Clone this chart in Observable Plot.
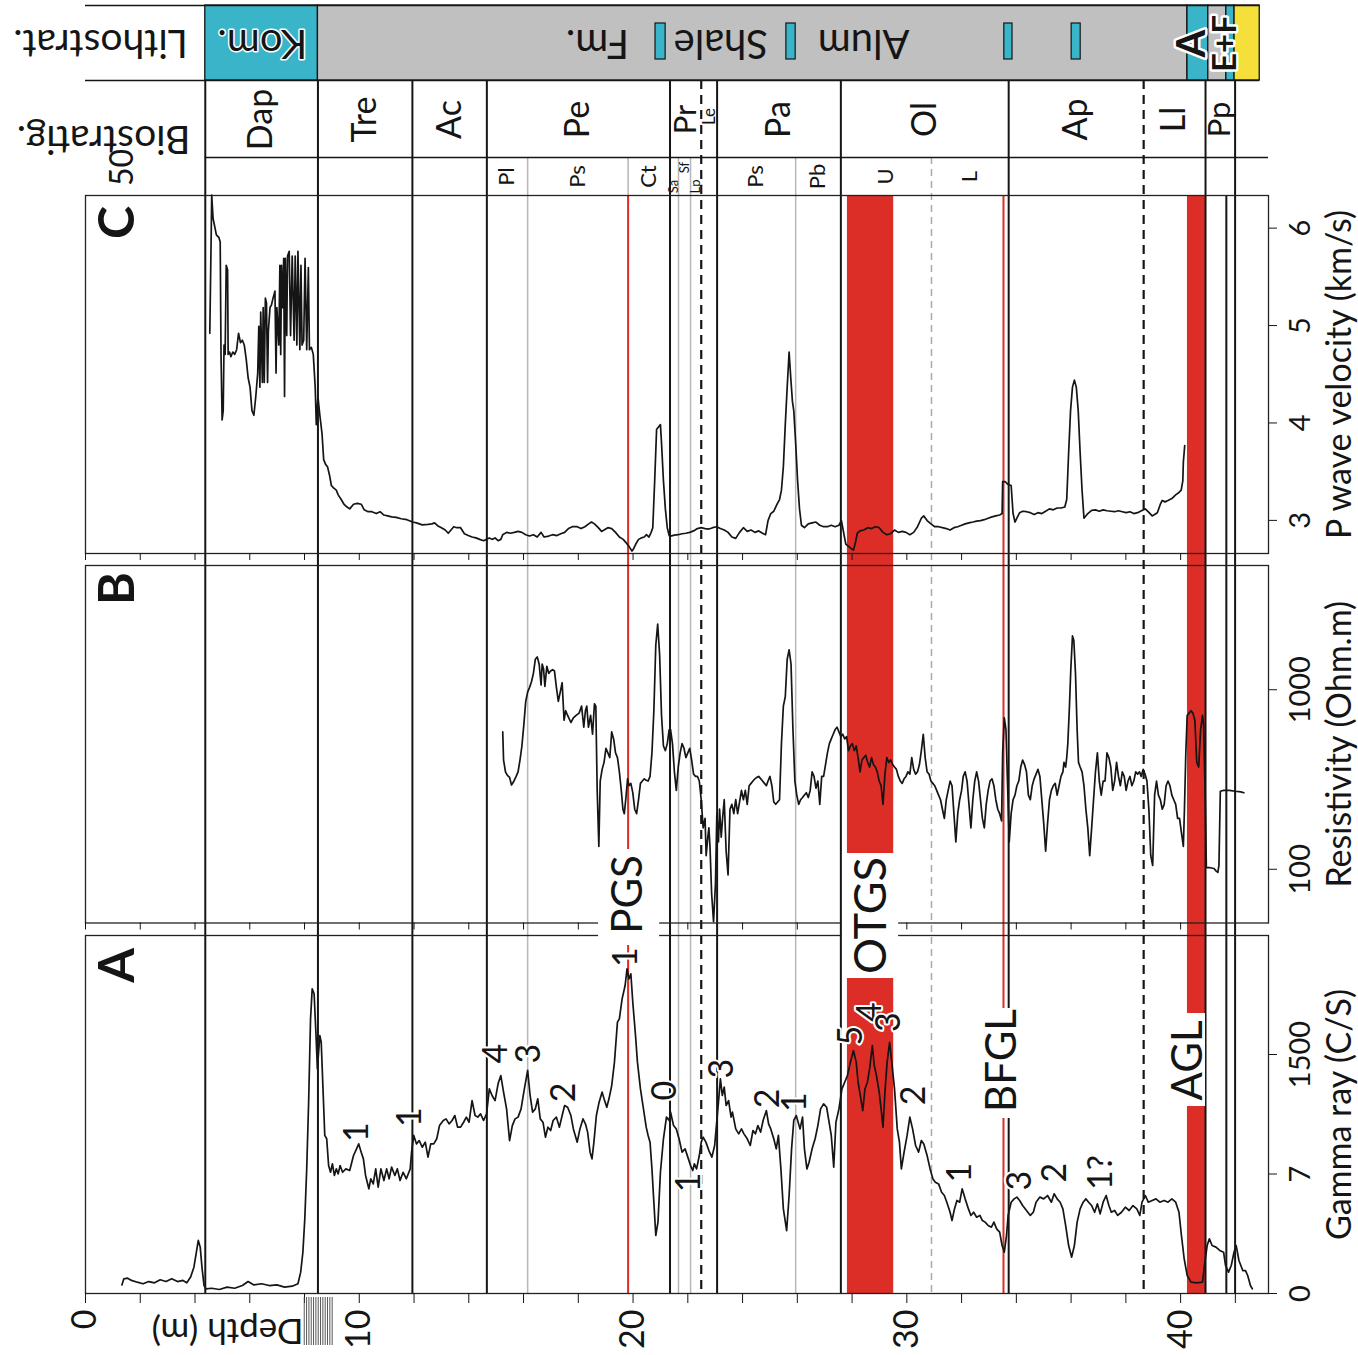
<!DOCTYPE html>
<html><head><meta charset="utf-8">
<script src="https://cdn.jsdelivr.net/npm/d3@7"></script>
<script src="https://cdn.jsdelivr.net/npm/@observablehq/plot@0.6"></script>
<style>
body{margin:0;background:#fff}
#wrap{position:relative;width:1358px;height:1355px;overflow:hidden;background:#fff}
#wrap svg{position:absolute;left:0;top:0}
</style></head><body><div id="wrap"></div>
<script>
// ---------------- DATA ----------------
// Gamma ray (C/S) vs depth (m)
const gammaLog = [[1.33,54],[1.40,92],[1.54,96],[1.68,82],[1.89,71],[2.10,61],[2.31,75],[2.52,67],[2.73,86],[2.94,75],[3.15,92],[3.36,75],[3.56,82],[3.70,67],[3.84,103],[3.96,165],[4.05,259],[4.12,333],[4.19,291],[4.26,155],[4.33,50],[4.40,29],[4.61,33],[4.89,25],[5.17,40],[5.45,33],[5.73,50],[5.94,75],[6.15,54],[6.43,61],[6.71,50],[6.99,54],[7.27,40],[7.55,46],[7.76,61],[7.86,134],[7.94,259],[8.01,469],[8.08,782],[8.15,1201],[8.22,1724],[8.28,1912],[8.35,1881],[8.42,1619],[8.47,1410],[8.56,1619],[8.61,1577],[8.67,1305],[8.74,992],[8.81,971],[8.88,803],[8.95,761],[9.02,814],[9.09,741],[9.16,782],[9.23,751],[9.30,803],[9.39,761],[9.51,782],[9.65,772],[9.79,866],[9.90,908],[9.98,939],[10.07,887],[10.15,845],[10.23,741],[10.35,657],[10.42,720],[10.51,688],[10.60,782],[10.69,667],[10.79,782],[10.90,709],[11.00,782],[11.09,720],[11.18,793],[11.30,741],[11.39,782],[11.49,709],[11.60,761],[11.72,720],[11.86,782],[11.91,887],[11.99,992],[12.09,939],[12.19,960],[12.30,918],[12.41,950],[12.51,856],[12.61,939],[12.72,939],[12.83,971],[12.93,1054],[13.07,1086],[13.17,1096],[13.28,1065],[13.39,1086],[13.49,1117],[13.59,1044],[13.70,1044],[13.81,1075],[13.91,1107],[14.01,1075],[14.12,1211],[14.23,1117],[14.33,1107],[14.43,1128],[14.54,1086],[14.65,1128],[14.75,1284],[14.85,1243],[14.96,1211],[15.07,1316],[15.17,1368],[15.27,1264],[15.38,1159],[15.49,960],[15.59,1054],[15.69,1096],[15.80,1107],[15.91,1159],[16.01,1264],[16.15,1400],[16.24,1243],[16.33,1138],[16.43,1159],[16.52,1222],[16.61,1096],[16.71,1075],[16.80,981],[16.89,1044],[16.99,1023],[17.08,1086],[17.20,1107],[17.31,1044],[17.41,1117],[17.50,1180],[17.61,1169],[17.73,1117],[17.82,1033],[17.96,950],[18.06,1033],[18.17,1096],[18.26,1065],[18.34,1013],[18.43,887],[18.50,845],[18.57,950],[18.66,1117],[18.76,1201],[18.87,1264],[18.94,1222],[19.04,1169],[19.12,1222],[19.22,1305],[19.32,1452],[19.43,1703],[19.50,1724],[19.60,1849],[19.71,1933],[19.78,2038],[19.85,1975],[19.92,2006],[19.99,1828],[20.09,1619],[20.16,1452],[20.27,1284],[20.38,1159],[20.48,1044],[20.55,992],[20.62,950],[20.69,782],[20.76,573],[20.83,364],[20.91,448],[21.00,761],[21.11,971],[21.22,1107],[21.32,1086],
[21.37,1138],[21.48,1054],[21.58,1033],[21.68,971],[21.79,887],[21.90,908],[22.00,856],[22.10,803],[22.18,772],[22.24,814],[22.32,782],[22.42,866],[22.49,950],[22.56,981],[22.66,950],[22.77,897],[22.88,856],[22.98,929],[23.05,1065],[23.12,1201],[23.19,1347],[23.26,1243],[23.33,1295],[23.40,1180],[23.49,1211],[23.58,1107],[23.63,1138],[23.75,1033],[23.86,1002],[23.96,1033],[24.05,1002],[24.17,971],[24.28,929],[24.38,1023],[24.47,1002],[24.56,1054],[24.66,1013],[24.75,1086],[24.87,1148],[24.95,1065],[25.03,1033],[25.14,971],[25.23,908],[25.31,992],[25.40,782],[25.49,531],[25.61,395],[25.70,615],[25.79,908],[25.87,1086],[25.96,1117],[26.03,1075],[26.10,1033],[26.19,1107],[26.26,908],[26.35,782],[26.43,824],[26.54,908],[26.65,971],[26.75,1054],[26.85,1159],[26.96,1190],[27.07,1169],[27.16,1075],[27.24,992],[27.33,793],[27.41,1075],[27.52,1159],[27.63,1284],[27.73,1326],[27.83,1368],[27.94,1452],[28.05,1525],[28.15,1452],[28.22,1326],[28.30,1243],[28.39,1148],[28.47,1284],[28.56,1326],[28.64,1410],[28.74,1556],[28.81,1431],[28.89,1368],[28.99,1264],[29.06,1159],[29.13,1044],[29.20,1264],[29.28,1452],[29.37,1577],[29.45,1452],[29.55,1284],[29.65,1033],[29.73,950],[29.80,782],[29.90,887],[30.01,992],[30.11,1107],[30.21,1033],[30.32,929],[30.43,887],[30.53,960],[30.62,939],[30.74,866],[30.85,782],[30.95,720],[31.04,699],[31.16,688],[31.27,636],[31.37,615],[31.46,573],[31.58,510],[31.65,458],[31.74,531],[31.83,584],[31.93,573],[32.02,657],[32.13,594],[32.25,531],[32.34,490],[32.44,510],[32.55,479],[32.67,490],[32.76,458],[32.86,448],[32.97,427],[33.09,416],[33.18,448],[33.28,406],[33.39,385],[33.48,301],[33.56,259],[33.64,364],[33.70,490],[33.81,573],[33.92,594],[34.02,605],[34.12,584],[34.23,552],[34.37,521],[34.51,490],[34.62,510],[34.72,573],[34.86,605],[35.00,594],[35.14,615],[35.28,573],[35.38,626],[35.49,594],[35.60,573],[35.70,531],[35.80,427],[35.91,301],[36.02,228],[36.12,301],[36.22,448],[36.33,531],[36.44,573],[36.54,594],[36.64,573],[36.75,552],[36.86,510],[36.96,563],[37.06,500],[37.17,573],[37.28,615],[37.38,552],[37.47,510],[37.59,521],[37.70,490],[37.84,510],[37.98,542],[38.12,521],[38.26,552],[38.40,531],[38.51,490],[38.59,573],[38.71,615],[38.82,573],[38.96,584],[39.10,594],[39.24,573],[39.40,584],[39.54,573],[39.68,594],[39.82,573],[39.94,510],[40.03,364],[40.13,218],[40.24,113],[40.38,71],[40.59,67],[40.80,71],[40.87,176],[40.97,301],[41.05,343],[41.15,301],[41.29,291],[41.43,270],[41.57,259],[41.64,176],[41.75,134],[41.85,176],[41.95,259],[42.03,301],[42.13,207],[42.27,144],[42.37,144],[42.45,113],[42.55,50],[42.62,29]];

// Resistivity (Ohm.m) vs depth (m)
const resistivityLog = [[15.24,582],[15.27,406],[15.34,349],[15.41,333],[15.49,325],[15.56,295],[15.63,306],[15.73,329],[15.80,349],[15.87,406],[15.94,486],[16.01,637],[16.08,861],[16.15,970],[16.22,1031],[16.29,1107],[16.36,1234],[16.43,1478],[16.50,1523],[16.57,1391],[16.64,1062],[16.68,1391],[16.73,1310],[16.78,1043],[16.85,1350],[16.92,1234],[16.99,1271],[17.06,1295],[17.13,1271],[17.20,1031],[17.27,861],[17.34,970],[17.41,1094],[17.48,676],[17.54,764],[17.61,719],[17.73,657],[17.82,697],[17.92,719],[18.03,741],[18.12,811],[18.20,618],[18.26,764],[18.31,811],[18.37,618],[18.45,719],[18.52,565],[18.59,835],[18.64,811],[18.69,275],[18.75,134],[18.80,310],[18.87,360],[18.94,394],[19.01,472],[19.08,445],[19.15,419],[19.22,582],[19.29,532],[19.36,445],[19.43,419],[19.50,349],[19.57,275],[19.63,216],[19.68,204],[19.74,251],[19.80,319],[19.85,292],[19.92,301],[19.99,267],[20.06,216],[20.13,204],[20.20,244],[20.27,301],[20.34,310],[20.41,319],[20.48,313],[20.55,310],[20.62,329],[20.69,445],[20.76,764],[20.83,1770],[20.90,2318],[20.97,1570],[21.04,719],[21.11,486],[21.18,458],[21.25,501],[21.32,600],
[21.37,600],[21.44,501],[21.51,349],[21.58,275],[21.65,371],[21.72,445],[21.79,501],[21.86,472],[21.93,419],[22.00,445],[22.07,472],[22.14,406],[22.21,339],[22.28,329],[22.35,329],[22.42,310],[22.49,244],[22.56,170],[22.63,192],[22.67,119],[22.73,151],[22.77,170],[22.81,134],[22.87,73],[22.94,51],[23.01,83],[23.06,204],[23.12,142],[23.16,216],[23.22,151],[23.27,192],[23.33,244],[23.40,126],[23.47,93],[23.54,216],[23.61,230],[23.68,204],[23.75,244],[23.82,204],[23.89,237],[23.96,275],[24.03,244],[24.10,275],[24.17,230],[24.24,292],[24.31,301],[24.38,310],[24.45,319],[24.52,325],[24.59,329],[24.73,310],[24.80,301],[24.87,292],[24.93,310],[25.00,329],[25.07,292],[25.14,237],[25.21,230],[25.28,237],[25.35,244],[25.42,501],[25.49,811],[25.56,914],[25.63,1478],[25.70,1667],[25.77,1391],[25.84,600],[25.91,310],[25.98,259],[26.05,230],[26.12,244],[26.19,251],[26.26,259],[26.33,267],[26.40,251],[26.47,275],[26.54,349],[26.61,329],[26.68,283],[26.75,310],[26.82,230],[26.89,329],[26.96,329],[27.03,383],[27.10,445],[27.17,501],[27.24,532],[27.31,565],[27.38,600],[27.45,618],[27.52,582],[27.59,548],[27.66,565],[27.73,532],[27.80,548],[27.87,458],[27.94,486],[28.01,501],[28.08,458],[28.15,486],[28.22,419],[28.29,349],[28.36,406],[28.43,419],[28.50,432],[28.57,394],[28.64,371],[28.71,419],[28.78,383],[28.85,371],[28.92,349],[28.99,310],[29.06,292],[29.13,230],[29.20,339],[29.27,419],[29.34,394],[29.41,406],[29.48,383],[29.55,371],[29.62,360],[29.69,329],[29.76,310],[29.83,301],[29.90,319],[29.97,329],[30.04,349],[30.11,339],[30.18,419],[30.25,360],[30.32,339],[30.39,349],[30.46,383],[30.53,458],[30.60,565],[30.67,419],[30.74,349],[30.81,339],[30.88,310],[30.95,301],[31.02,292],[31.09,275],[31.16,259],[31.23,244],[31.30,216],[31.37,192],[31.44,244],[31.51,275],[31.58,310],[31.65,292],[31.72,204],[31.79,142],[31.86,204],[31.93,244],[32.00,275],[32.06,329],[32.13,349],[32.20,310],[32.27,230],[32.34,170],[32.41,244],[32.48,310],[32.55,349],[32.62,310],[32.69,244],[32.76,192],[32.83,170],[32.90,230],[32.97,275],[33.04,310],[33.11,319],[33.18,292],[33.25,244],[33.32,216],[33.39,204],[33.46,186],[33.50,445],[33.56,697],[33.62,600],[33.67,329],[33.74,142],[33.81,204],[33.88,244],[33.95,259],[34.02,292],[34.09,310],[34.16,371],[34.23,406],[34.30,383],[34.37,349],[34.44,259],[34.51,244],[34.58,292],[34.65,319],[34.72,339],[34.79,360],[34.86,329],[34.93,244],[35.00,180],[35.07,126],[35.14,180],[35.21,244],[35.28,275],[35.35,292],[35.42,301],[35.49,259],[35.56,292],[35.63,329],[35.70,349],[35.74,394],[35.80,371],[35.84,419],[35.88,501],[35.94,811],[35.99,1310],[36.05,1995],[36.10,1879],[36.16,1234],[36.22,600],[36.27,394],[36.33,371],[36.40,349],[36.47,292],[36.54,216],[36.61,170],[36.68,119],[36.75,170],[36.82,244],[36.89,349],[36.96,445],[37.03,310],[37.10,259],[37.17,310],[37.24,310],[37.31,445],[37.38,419],[37.45,371],[37.52,275],[37.59,310],[37.66,394],[37.73,329],[37.80,292],[37.87,349],[37.94,329],[38.01,275],[38.08,310],[38.15,329],[38.22,292],[38.29,310],[38.36,349],[38.43,339],[38.50,349],[38.56,329],[38.63,360],[38.70,339],[38.77,310],[38.84,216],[38.91,119],[38.98,105],[39.05,259],[39.12,310],[39.19,259],[39.26,244],[39.33,216],[39.40,230],[39.47,292],[39.54,310],[39.61,292],[39.68,259],[39.75,244],[39.82,230],[39.89,192],[39.96,192],[40.03,160],[40.10,134],[40.14,216],[40.19,445],[40.24,719],[40.31,741],[40.38,764],[40.45,741],[40.52,676],[40.59,394],[40.66,371],[40.73,600],[40.80,719],[40.84,637],[40.90,244],[40.94,102],[41.08,102],[41.22,101],[41.29,98],[41.36,96],[41.40,105],[41.45,272],[41.57,275],[41.78,275],[41.99,272],[42.20,270],[42.31,267]];

// P wave velocity (km/s) vs depth (m)
const velocityLog = [[4.54,4.92],[4.59,5.906],[4.61,6.339],[4.66,6.099],[4.73,6.003],[4.78,5.931],[4.87,5.906],[4.92,5.858],[4.95,4.704],[4.99,4.031],[5.03,4.127],[5.06,4.800],[5.10,4.704],[5.14,5.618],[5.19,5.570],[5.21,4.704],[5.26,4.728],[5.31,4.680],[5.38,4.728],[5.45,4.704],[5.52,4.752],[5.59,4.921],[5.66,4.825],[5.73,4.849],[5.80,4.800],[5.87,4.656],[5.94,4.464],[6.01,4.368],[6.08,4.127],[6.15,4.079],[6.22,4.272],[6.29,4.512],[6.33,4.993],[6.37,4.368],[6.40,5.137],[6.46,4.416],[6.49,5.185],[6.53,4.416],[6.57,5.281],[6.61,5.233],[6.65,4.416],[6.68,4.945],[6.74,5.185],[6.79,5.209],[6.85,5.281],[6.92,5.353],[6.96,4.512],[6.99,5.185],[7.06,4.800],[7.10,5.618],[7.13,4.704],[7.16,5.618],[7.20,5.185],[7.24,5.690],[7.27,4.272],[7.30,5.690],[7.35,4.897],[7.38,5.714],[7.44,5.762],[7.49,4.897],[7.55,5.714],[7.62,4.849],[7.66,5.714],[7.72,4.800],[7.76,5.762],[7.83,4.752],[7.87,5.618],[7.91,4.800],[7.97,4.849],[8.02,5.690],[8.08,4.752],[8.14,5.594],[8.18,4.752],[8.25,4.776],[8.32,4.704],[8.39,4.368],[8.43,3.983],[8.49,4.272],[8.56,4.079],[8.64,3.887],[8.70,3.623],[8.77,3.575],[8.84,3.551],[8.92,3.454],[8.98,3.358],[9.06,3.334],[9.16,3.310],[9.23,3.262],[9.34,3.214],[9.44,3.166],[9.53,3.142],[9.65,3.118],[9.79,3.166],[9.93,3.175],[10.07,3.166],[10.18,3.108],[10.32,3.089],[10.46,3.089],[10.62,3.070],[10.76,3.089],[10.90,3.055],[11.04,3.046],[11.18,3.036],[11.35,3.031],[11.53,3.017],[11.74,3.007],[11.95,2.983],[12.09,2.974],[12.30,2.954],[12.51,2.959],[12.65,2.964],[12.75,2.974],[12.86,2.945],[13.00,2.925],[13.14,2.901],[13.25,2.868],[13.35,2.901],[13.45,2.935],[13.56,2.925],[13.70,2.925],[13.84,2.863],[13.98,2.844],[14.12,2.829],[14.26,2.820],[14.40,2.805],[14.54,2.791],[14.65,2.805],[14.75,2.820],[14.85,2.805],[14.96,2.820],[15.07,2.791],[15.17,2.805],[15.24,2.853],[15.38,2.877],[15.52,2.868],[15.66,2.877],[15.80,2.887],[15.94,2.877],[16.08,2.853],[16.22,2.839],[16.36,2.853],[16.50,2.829],[16.64,2.877],[16.75,2.829],[16.92,2.839],[17.06,2.853],[17.22,2.844],[17.36,2.863],[17.50,2.877],[17.64,2.916],[17.78,2.935],[17.96,2.935],[18.10,2.916],[18.24,2.935],[18.38,2.964],[18.48,2.983],[18.59,2.964],[18.73,2.925],[18.85,2.887],[18.94,2.901],[19.08,2.925],[19.22,2.916],[19.36,2.877],[19.50,2.829],[19.64,2.805],[19.74,2.772],[19.85,2.733],[19.96,2.685],[20.02,2.709],[20.10,2.757],[20.20,2.805],[20.30,2.820],[20.41,2.829],[20.49,2.853],[20.58,2.829],[20.66,2.877],[20.72,2.925],[20.79,3.406],[20.86,3.935],[20.93,3.959],[21.00,3.983],[21.04,3.791],[21.11,3.406],[21.18,3.118],[21.25,2.925],[21.32,2.844],
[21.37,2.839],[21.51,2.849],[21.65,2.853],[21.79,2.863],[21.93,2.868],[22.07,2.877],[22.21,2.892],[22.35,2.916],[22.49,2.925],[22.63,2.916],[22.77,2.911],[22.91,2.925],[23.05,2.935],[23.19,2.916],[23.33,2.901],[23.47,2.877],[23.61,2.829],[23.75,2.815],[23.89,2.877],[24.03,2.925],[24.17,2.887],[24.31,2.901],[24.45,2.877],[24.59,2.892],[24.73,2.868],[24.84,2.853],[24.93,2.998],[25.03,3.070],[25.14,3.094],[25.26,3.166],[25.35,3.214],[25.42,3.310],[25.49,3.551],[25.56,3.983],[25.63,4.368],[25.70,4.728],[25.76,4.464],[25.82,4.224],[25.87,4.127],[25.94,3.791],[26.01,3.406],[26.08,3.118],[26.15,2.950],[26.26,2.925],[26.40,2.964],[26.54,2.974],[26.68,2.983],[26.82,2.950],[26.96,2.935],[27.10,2.935],[27.24,2.950],[27.38,2.935],[27.52,2.950],[27.61,2.998],[27.69,2.877],[27.77,2.757],[27.87,2.733],[27.97,2.709],[28.05,2.695],[28.11,2.757],[28.19,2.868],[28.29,2.892],[28.43,2.901],[28.57,2.925],[28.71,2.916],[28.85,2.935],[28.99,2.925],[29.13,2.877],[29.27,2.853],[29.41,2.863],[29.55,2.901],[29.69,2.877],[29.83,2.887],[29.97,2.877],[30.11,2.853],[30.25,2.877],[30.39,2.935],[30.53,3.022],[30.62,3.046],[30.74,2.998],[30.88,2.964],[31.02,2.935],[31.16,2.935],[31.30,2.925],[31.44,2.916],[31.58,2.901],[31.72,2.925],[31.86,2.935],[32.00,2.950],[32.13,2.964],[32.27,2.974],[32.41,2.983],[32.55,2.993],[32.69,2.998],[32.83,3.007],[32.97,3.022],[33.11,3.036],[33.25,3.046],[33.39,3.055],[33.48,3.070],[33.50,3.397],[33.59,3.397],[33.70,3.368],[33.81,3.358],[33.88,3.070],[33.95,2.983],[34.02,3.022],[34.12,3.079],[34.23,3.094],[34.37,3.089],[34.51,3.079],[34.65,3.060],[34.79,3.079],[34.93,3.070],[35.07,3.094],[35.21,3.118],[35.35,3.108],[35.49,3.127],[35.63,3.127],[35.77,3.137],[35.84,3.214],[35.91,3.695],[35.98,4.127],[36.05,4.368],[36.12,4.440],[36.19,4.368],[36.26,4.127],[36.33,3.695],[36.40,3.310],[36.47,3.022],[36.61,3.070],[36.75,3.103],[36.89,3.108],[37.03,3.094],[37.17,3.108],[37.31,3.099],[37.45,3.094],[37.59,3.089],[37.73,3.099],[37.87,3.089],[38.01,3.079],[38.15,3.089],[38.29,3.070],[38.43,3.079],[38.57,3.099],[38.71,3.118],[38.85,3.079],[38.96,3.046],[39.05,3.060],[39.15,3.079],[39.26,3.166],[39.33,3.204],[39.43,3.190],[39.54,3.204],[39.68,3.224],[39.82,3.262],[39.94,3.286],[40.02,3.310],[40.08,3.406],[40.10,3.599],[40.15,3.767]];

// Annotations on the gamma-ray log: [depth, gamma, label]
const gammaNotes = [[9.92,1012,"1"],[11.85,1107,"1"],[15.0,1506,"4"],[16.22,1506,"3"],[17.48,1263,"2"],[19.76,2111,"1"],[21.18,1274,"0"],[22.06,697,"1"],[23.26,1412,"3"],[24.93,1224,"2"],[25.91,1201,"1"],[27.95,1619,"5"],[28.67,1766,"4"],[29.34,1703,"3"],[30.25,1243,"2"],[31.93,759,"1"],[34.12,709,"3"],[35.42,759,"2"],[37.10,759,"1?"]];

// Biostratigraphy (m)
const bioZones = [
  {name:"Dap",from:4.375,to:8.49},{name:"Tre",from:8.49,to:11.94},{name:"Ac",from:11.94,to:14.66},
  {name:"Pe",from:14.66,to:21.35},{name:"Pr",from:21.35,to:22.49},{name:"Le",from:22.49,to:23.07},
  {name:"Pa",from:23.07,to:27.59},{name:"Ol",from:27.59,to:33.72},{name:"Ap",from:33.72,to:38.65},
  {name:"Ll",from:38.65,to:40.91},{name:"Pp",from:40.91,to:41.99}];
const bioSubZones = [
  {name:"Pl",from:14.66,to:16.15},{name:"Ps",from:16.15,to:19.82},{name:"Ct",from:19.82,to:21.35},
  {name:"Sa",from:21.35,to:21.66},{name:"Sf",from:21.66,to:22.1},{name:"Lp",from:22.1,to:22.49},
  {name:"Ps",from:23.07,to:25.94},{name:"Pb",from:25.94,to:27.59},
  {name:"U",from:27.59,to:30.9},{name:"L",from:30.9,to:33.72}];
const zoneBounds = [4.375, 8.49, 11.94, 14.66, 21.35, 23.07, 27.59, 33.72, 40.91, 41.99];
const uncertainBounds = [22.49, 38.65];
const subBounds = [16.15, 19.82, 21.66, 22.1, 25.94];
const uncertainSubBounds = [30.9];
const logOnlyBounds = [41.67];

// Lithostratigraphy (m)
const lithoUnits = [
  {name:"Kom.",from:4.375,to:8.49,lith:"limestone"},
  {name:"Alum Shale Fm.",from:8.49,to:40.25,lith:"shale"},
  {name:"A",from:40.25,to:41.01,lith:"limestone"},
  {name:"E",from:41.01,to:41.67,lith:"shale"},
  {name:"F",from:41.67,to:41.97,lith:"limestone"},
  {name:"",from:41.97,to:42.89,lith:"sandstone"}];
const limestoneLenses = [[20.82,21.19],[25.6,25.94],[33.56,33.86],[36.02,36.35]];
const lithoLabels = [{t:"Kom.",d:6.46,bold:true,up:false},{t:"Fm.",d:18.70,up:false},{t:"Shale",d:23.2,up:false},{t:"Alum",d:28.42,up:false},{t:"A",d:40.42,bold:true,up:true},{t:"E+F",d:41.64,bold:true,up:true}];

// Marker horizons
const redBands = [{name:"OTGS",from:27.83,to:29.52},{name:"AGL",from:40.25,to:40.91}];
const redLines = [{name:"PGS",depth:19.82},{name:"BFGL",depth:33.53}];

// Axes
const velTicks = [3,4,5,6];
const resTicks = [100,1000];
const gammaTicks = [0,750,1500];
const gammaTickLabels = ["0","7","1500"];
const depthLabels = [0,10,20,30,40];
const depthTicks = d3.range(0, 43, 2);

// ---------------- LAYOUT ----------------
const W = 1358, H = 1355, XMAX = 43.21;
const RED = "#dc2d26", CYAN = "#3ab4c8", GRAY = "#c0c0c0", YELLOW = "#f5df3a", INK = "#151515";
const FONT = "Lato, 'Open Sans', sans-serif";
const L = {lithoTop:5, lithoBot:80, bioBot:157, logTop:195, logBot:1293,
  C:[195,553], B:[565,922.5], A:[935,1293]};
const lithColor = {limestone: CYAN, shale: GRAY, sandstone: YELLOW};
const wrap = document.getElementById("wrap");
const style = {background:"transparent", overflow:"visible", fontFamily:FONT, color:INK};

function layer(marks){
  return Plot.plot({width:W, height:H, marginLeft:85, marginRight:90, marginTop:0, marginBottom:0,
    x:{domain:[0,XMAX], axis:null}, y:{type:"identity", axis:null}, style, marks});
}
function panel([top,bottom], y, marks){
  return Plot.plot({width:W, height:H, marginLeft:85, marginRight:90, marginTop:top, marginBottom:H-bottom,
    x:{domain:[0,XMAX], axis:null}, y:{...y, axis:null}, style, marks});
}
const tickOnly = () => "";
const title = (t) => Plot.text([t], {frameAnchor:"right", dx:72, rotate:-90, textAnchor:"middle", fontSize:34});

// background: horizons and zone boundaries
wrap.append(layer([
  Plot.rect(redBands, {x1:"from", x2:"to", y1:L.logTop, y2:L.logBot, fill:RED}),
  Plot.ruleX(subBounds, {y1:L.bioBot, y2:L.logBot, stroke:"#b7b7b7", strokeWidth:1.5}),
  Plot.ruleX(uncertainSubBounds, {y1:L.bioBot, y2:L.logBot, stroke:"#aaaaaa", strokeWidth:1.5, strokeDasharray:"7,5"}),
  Plot.ruleX(redLines, {x:"depth", y1:L.logTop, y2:L.logBot, stroke:RED, strokeWidth:2}),
  Plot.ruleX(zoneBounds, {y1:L.lithoBot, y2:L.logBot, stroke:INK, strokeWidth:2}),
  Plot.ruleX(uncertainBounds, {y1:L.lithoBot, y2:L.logBot, stroke:INK, strokeWidth:2.2, strokeDasharray:"9,6"}),
  Plot.ruleX(logOnlyBounds, {y1:L.logTop, y2:L.logBot, stroke:INK, strokeWidth:2})
]));

// Panel C: P-wave velocity
wrap.append(panel(L.C, {domain:[2.66, 6.335]}, [
  Plot.frame({stroke:"#222", strokeWidth:1.3}),
  Plot.line(velocityLog, {x:d=>d[0], y:d=>d[1], stroke:INK, strokeWidth:1.7}),
  Plot.axisY({anchor:"right", ticks:velTicks, tickSize:8, tickFormat:tickOnly, label:null}),
  Plot.axisX({anchor:"bottom", ticks:depthTicks, tickSize:7, tickFormat:tickOnly, label:null}),
  Plot.text(velTicks, {x:XMAX, y:d=>d, text:d=>String(d), dx:32, rotate:-90, fontSize:29}),
  title("P wave velocity (km/s)")
]));

// Panel B: resistivity
wrap.append(panel(L.B, {type:"log", domain:[50.2, 4920]}, [
  Plot.frame({stroke:"#222", strokeWidth:1.3}),
  Plot.line(resistivityLog, {x:d=>d[0], y:d=>d[1], stroke:INK, strokeWidth:1.7}),
  Plot.axisY({anchor:"right", ticks:resTicks, tickSize:8, tickFormat:tickOnly, label:null}),
  Plot.axisX({anchor:"bottom", ticks:depthTicks, tickSize:7, tickFormat:tickOnly, label:null}),
  Plot.text(resTicks, {x:XMAX, y:d=>d, text:d=>String(d), dx:32, rotate:-90, fontSize:29}),
  title("Resistivity (Ohm.m)")
]));

// Panel A: gamma ray
wrap.append(panel(L.A, {domain:[0, 2247]}, [
  Plot.frame({stroke:"#222", strokeWidth:1.3}),
  Plot.line(gammaLog, {x:d=>d[0], y:d=>d[1], stroke:INK, strokeWidth:1.7}),
  Plot.axisY({anchor:"right", ticks:gammaTicks, tickSize:8, tickFormat:tickOnly, label:null}),
  Plot.axisX({anchor:"bottom", ticks:depthTicks, tickSize:10, tickFormat:tickOnly, label:null}),
  Plot.text(gammaTicks, {x:XMAX, y:d=>d, text:(d,i)=>gammaTickLabels[i], dx:32, rotate:-90, fontSize:29}),
  title("Gamma ray (C/S)"),
  Plot.text(gammaNotes, {x:d=>d[0], y:d=>d[1], text:d=>d[2], rotate:-90, fontSize:34, stroke:"white", strokeWidth:4, paintOrder:"stroke", fill:INK})
]));

// top layer: header columns, horizon labels, depth axis labels
const labelBoxes = [
  {t:"PGS", from:18.74, to:20.97, y1:849, y2:945, yc:894, d:19.84, fs:42},
  {t:"OTGS", from:27.65, to:29.70, y1:853, y2:978, yc:915, d:28.72, fs:45},
  {t:"BFGL", from:32.69, to:34.30, y1:1008, y2:1118, yc:1060, d:33.48, fs:42},
  {t:"AGL", from:39.56, to:40.91, y1:1013, y2:1106, yc:1060, d:40.30, fs:42}];
const hatch = d3.range(7.99, 9.03, 0.085);

wrap.append(layer([
  // lithostratigraphy
  Plot.rect(lithoUnits, {x1:"from", x2:"to", y1:L.lithoTop, y2:L.lithoBot, fill:d=>lithColor[d.lith], stroke:INK, strokeWidth:1.3}),
  Plot.rect(limestoneLenses, {x1:d=>d[0], x2:d=>d[1], y1:23, y2:59, fill:CYAN, stroke:INK, strokeWidth:1.2}),
  Plot.ruleY([L.lithoTop, L.lithoBot], {x1:0, x2:lithoUnits[lithoUnits.length-1].to, stroke:INK, strokeWidth:1.3}),
  Plot.ruleY([L.bioBot], {x1:zoneBounds[0], x2:XMAX, stroke:INK, strokeWidth:1.3}),
  Plot.text(lithoLabels.filter(d=>!d.up), {x:"d", y:42, text:"t", rotate:180, fontSize:40, fontWeight:d=>d.bold?"bold":"normal", stroke:d=>d.bold?"white":"none", strokeWidth:3, paintOrder:"stroke", fill:INK}),
  Plot.text(lithoLabels.filter(d=>d.up), {x:"d", y:43, text:"t", rotate:-90, fontSize:d=>d.t.length>1?33:40, fontWeight:"bold", stroke:"white", strokeWidth:5, paintOrder:"stroke", fill:INK}),
  // biostratigraphy
  Plot.text(bioZones, {x:d=>(d.from+d.to)/2, y:d=>d.name==="Le"?116:119, text:"name", rotate:-90, fontSize:d=>(d.to-d.from)<0.8?17:(d.to-d.from)<1.2?31:34}),
  Plot.text(bioSubZones, {x:d=>(d.from+d.to)/2, y:d=>d.name==="Sf"?167:(d.to-d.from)<0.5?186:176, text:"name", rotate:-90, fontSize:d=>(d.to-d.from)<0.5?13:22}),
  // horizon labels with white boxes
  Plot.rect(labelBoxes, {x1:"from", x2:"to", y1:"y1", y2:"y2", fill:"white"}),
  Plot.text(labelBoxes, {x:"d", y:"yc", text:"t", rotate:-90, fontSize:"fs"}),
  // depth axis
  Plot.text(depthLabels, {x:d=>d, y:1309, text:d=>String(d), rotate:-90, textAnchor:"end", fontSize:34}),
  Plot.text(["Depth (m)"], {x:5.19, y:1330, rotate:180, fontSize:35}),
  Plot.ruleX(hatch, {y1:1297, y2:1345, stroke:"#444", strokeWidth:0.9}),
  // left labels
  Plot.text(["Lithostrat."], {x:0.55, y:42, rotate:180, fontSize:39}),
  Plot.text(["Biostratig."], {x:0.66, y:138, rotate:180, fontSize:39}),
  Plot.text(["50"], {x:1.35, y:167, rotate:-90, fontSize:32}),
  Plot.text([{t:"C",y:222},{t:"B",y:588},{t:"A",y:965}], {x:1.2, y:"y", text:"t", rotate:-90, fontSize:50, fontWeight:"bold"})
]));
</script>
</body></html>
